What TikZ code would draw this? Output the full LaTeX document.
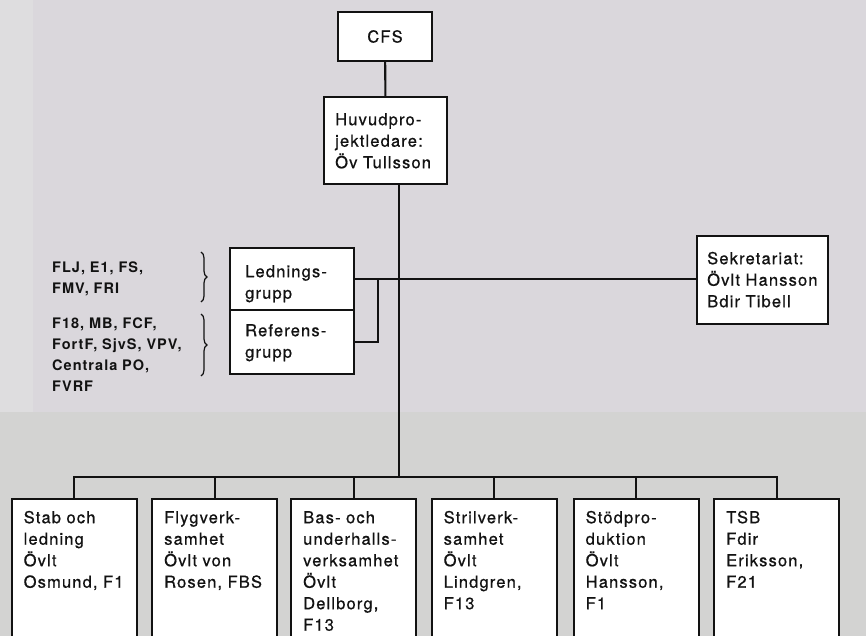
\documentclass[tikz,border=0pt]{standalone}
\usepackage{fontspec}
\setmainfont{TeX Gyre Heros}
\newfontfamily\orgfont{TeX Gyre Heros}[LetterSpace=7,FakeBold=0.7]
\newfontfamily\memfont{TeX Gyre Heros Bold}[LetterSpace=7]
\usetikzlibrary{decorations.pathreplacing}
\definecolor{paperhi}{RGB}{218,215,220}
\definecolor{paperlo}{RGB}{211,211,210}
\definecolor{paperedge}{RGB}{222,221,223}
\definecolor{ink}{RGB}{18,18,18}

\begin{document}
\begin{tikzpicture}[x=1pt,y=-1pt,
  every node/.style={text=ink,font=\orgfont\fontsize{16.5}{21.5}\selectfont},
  orgbox/.style={draw=ink,line width=2.4pt,fill=white,align=left,anchor=north west,inner ysep=0pt},
  link/.style={draw=ink,line width=2.1pt},
  members/.style={align=left,anchor=base west,inner sep=0pt,text width=150pt,
    font=\memfont\fontsize{14.5}{21}\selectfont}]
  \useasboundingbox (0,0) rectangle (866,636);
  \clip (0,0) rectangle (866,636);
  \fill[paperhi] (0,0) rectangle (866,412);
  \fill[paperlo] (0,412) rectangle (866,636);
  \fill[paperedge] (0,0) rectangle (33,412);

  \node[draw=ink,line width=2.4pt,fill=white,minimum width=94pt,minimum height=49pt] (cfs) at (385,36.5) {CFS};
  \node[orgbox,inner xsep=11pt,text width=101pt,text height=28pt,text depth=59pt] (huvud) at (323,96)
    {Huvudpro-\\jektledare:\\Öv~Tullsson};
  \node[orgbox,inner xsep=15pt,text width=94pt,text height=29pt,text depth=33pt] (lednings) at (229,247)
    {Lednings-\\grupp};
  \node[orgbox,inner xsep=15pt,text width=94pt,text height=26pt,text depth=38pt] (referens) at (229,309)
    {Referens-\\grupp};
  \node[orgbox,inner xsep=10pt,text width=111pt,text height=28pt,text depth=60pt] (sekr) at (696,235)
    {Sekretariat:\\Övlt~Hansson\\Bdir~Tibell};

  \node[members] (ledmem) at (52,272) {FLJ, E1, FS,\\FMV, FRI};
  \node[members] (refmem) at (52,328) {F18, MB, FCF,\\FortF, SjvS, VPV,\\Centrala PO,\\FVRF};
  \draw[ink,line width=1.2pt,decorate,decoration={brace,amplitude=6pt}] (201,252) -- (201,302);
  \draw[ink,line width=1.2pt,decorate,decoration={brace,amplitude=6pt}] (201,314) -- (201,376);

  \foreach \i/\x/\txt in {1/10.5/{Stab~och\\ledning\\Övlt\\Osmund,~F1},
      2/151/{Flygverk-\\samhet\\Övlt~von\\Rosen,~FBS},
      3/290/{Bas-~och\\underhalls-\\verksamhet\\Övlt\\Dellborg,\\F13},
      4/430.5/{Strilverk-\\samhet\\Övlt\\Lindgren,\\F13},
      5/572.5/{Stödpro-\\duktion\\Övlt\\Hansson,\\F1},
      6/713/{TSB\\Fdir\\Eriksson,\\F21}} {
    \node[orgbox,inner xsep=12pt,text width=101pt,text height=24pt,text depth=136pt] (unit\i) at (\x,498) {\txt};
  }

  \coordinate (spine) at (399,477);
  \draw[link] (cfs) -- (huvud);
  \draw[link] (huvud.south -| spine) -- (spine);
  \draw[link] (lednings.east) -- (lednings.east -| sekr.west);
  \draw[link] (referens.east) -| ([xshift=23pt]lednings.east);
  \draw[link] (unit1.north) |- (unit6.north |- spine) -- (unit6.north);
  \foreach \i in {2,...,5} {
    \draw[link] (unit\i.north) -- (unit\i.north |- spine);
  }
\end{tikzpicture}
\end{document}
